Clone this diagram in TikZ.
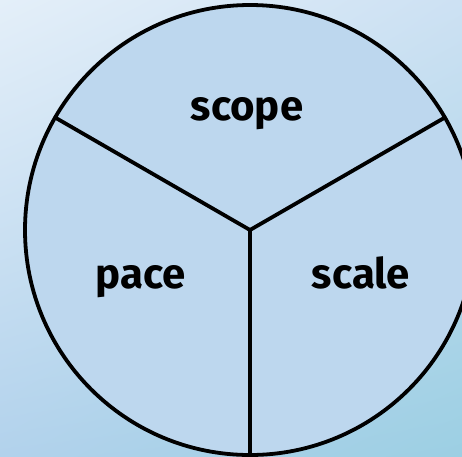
\documentclass[tikz,border=0pt]{standalone}
\usepackage{fontspec}
\setmainfont{Fira Sans}
\usetikzlibrary{shadings}
\definecolor{bgtl}{HTML}{E4EFF9}
\definecolor{bgtr}{HTML}{CDE1F3}
\definecolor{bgbl}{HTML}{B2D2EC}
\definecolor{bgbr}{HTML}{9CCFE3}
\definecolor{pie}{HTML}{BDD7EE}
\tikzset{
  txt/.style={font=\fontsize{42}{46}\selectfont\bfseries, anchor=base, inner sep=0pt},
  spoke/.style={line width=3.8pt, black},
}
\begin{document}
\begin{tikzpicture}[x=1pt,y=-1pt]
\useasboundingbox (0,0) rectangle (462,456);
\clip (0,0) rectangle (462,456);
\shade[upper left=bgtl, upper right=bgtr, lower left=bgbl, lower right=bgbr] (0,0) rectangle (462,456);
\coordinate (c) at (250,230);
\draw[spoke, fill=pie] (c) circle[radius=225];
\draw[spoke] (c) -- ++(0,225) coordinate (b);
\draw[spoke] (c) -- ++(-194.9,-112.5) coordinate (l);
\draw[spoke] (c) -- ++(194.9,-112.5) coordinate (r);
\node[txt] (scope) at (247,120) {scope};
\node[txt] (pace) at (141,288) {pace};
\node[txt] (scale) at (361,288) {scale};
\end{tikzpicture}
\end{document}
